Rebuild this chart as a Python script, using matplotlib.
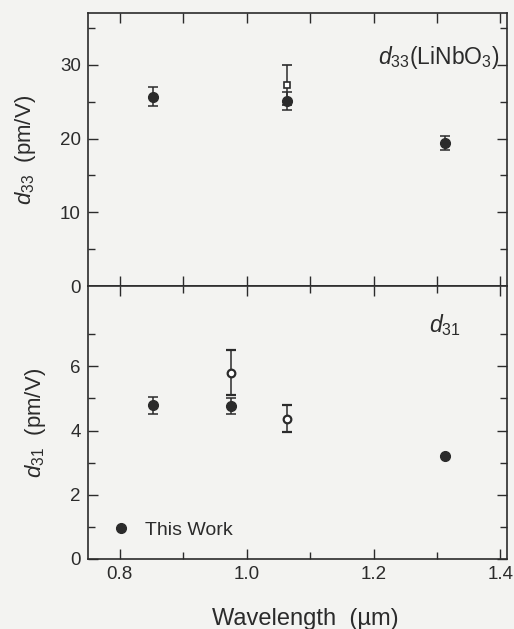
import matplotlib.pyplot as plt
from matplotlib.ticker import MultipleLocator
from matplotlib.lines import Line2D

plt.rcParams['font.family'] = ['Liberation Sans', 'DejaVu Sans']
plt.rcParams['mathtext.fontset'] = 'custom'
plt.rcParams['mathtext.rm'] = 'Liberation Sans'
plt.rcParams['mathtext.it'] = 'Liberation Sans:italic'

ink = '#2b2b2b'
bg = '#f3f3f1'

# d33 panel
d33_wl = [0.852, 1.064, 1.313]
d33_val = [25.7, 25.1, 19.4]
d33_err = [1.3, 1.2, 0.9]
d33_ref_wl = [1.064]
d33_ref_val = [27.3]
d33_ref_err = [2.7]

# d31 panel
d31_wl = [0.852, 0.976, 1.313]
d31_val = [4.78, 4.76, 3.2]
d31_err = [0.25, 0.25, 0.0]
d31_ref_wl = [0.976, 1.064]
d31_ref_val = [5.8, 4.37]
d31_ref_err = [0.7, 0.43]

fig = plt.figure(figsize=(5.14, 6.29), dpi=100, facecolor=bg)
ax1 = fig.add_axes([0.171, 0.5453, 0.815, 0.4337], facecolor=bg)
ax2 = fig.add_axes([0.171, 0.1113, 0.815, 0.434], facecolor=bg)

ax1.errorbar(d33_ref_wl, d33_ref_val, yerr=d33_ref_err, fmt='s', ms=4.5, mfc='white',
             mec=ink, mew=1.2, ecolor=ink, elinewidth=1.1, capsize=3.5, capthick=1.1, zorder=2)
ax1.errorbar(d33_wl, d33_val, yerr=d33_err, fmt='o', ms=7, color=ink,
             ecolor=ink, elinewidth=1.1, capsize=3.5, capthick=1.1, zorder=3)

ax2.errorbar(d31_ref_wl, d31_ref_val, yerr=d31_ref_err, fmt='o', ms=5.5, mfc='white',
             mec=ink, mew=1.6, ecolor=ink, elinewidth=1.1, capsize=3.5, capthick=1.1, zorder=2)
ax2.errorbar(d31_wl, d31_val, yerr=d31_err, fmt='o', ms=7, color=ink,
             ecolor=ink, elinewidth=1.1, capsize=3.5, capthick=1.1, zorder=3)

for ax in (ax1, ax2):
    ax.set_xlim(0.75, 1.41)
    ax.xaxis.set_major_locator(MultipleLocator(0.2))
    ax.xaxis.set_minor_locator(MultipleLocator(0.1))
    ax.tick_params(which='both', direction='in', top=True, right=True, colors=ink,
                   labelsize=13.5, width=1.0, pad=5)
    ax.tick_params(which='major', length=7)
    ax.tick_params(which='minor', length=5)
    for s in ax.spines.values():
        s.set_color(ink)
        s.set_linewidth(1.2)

ax1.set_ylim(0, 37)
ax1.yaxis.set_major_locator(MultipleLocator(10))
ax1.yaxis.set_minor_locator(MultipleLocator(5))
ax1.tick_params(axis='x', which='minor', length=7)
ax1.tick_params(labelbottom=False)
ax1.set_ylabel(r'$d_{33}$  (pm/V)', fontsize=16, color=ink, labelpad=16)
ax1.text(0.983, 0.839, r'$d_{33}$(LiNbO$_3$)', transform=ax1.transAxes,
         ha='right', va='center', fontsize=16.5, color=ink)

ax2.set_ylim(0, 8.5)
ax2.set_yticks([0, 2, 4, 6])
ax2.set_yticks([1, 3, 5, 7], minor=True)
ax2.set_xticks([0.8, 1.0, 1.2, 1.4])
ax2.set_xticklabels(['0.8', '1.0', '1.2', '1.4'])
ax2.set_ylabel(r'$d_{31}$  (pm/V)', fontsize=16, color=ink, labelpad=16)
ax2.set_xlabel('Wavelength  (µm)', fontsize=17, color=ink, labelpad=18)
ax2.xaxis.label.set_x(0.518)
ax2.text(0.852, 0.857, r'$d_{31}$', transform=ax2.transAxes,
         ha='center', va='center', fontsize=16.5, color=ink)
handle = Line2D([], [], ls='none', marker='o', ms=7, color=ink)
ax2.legend([handle], ['This Work'], loc='lower left', bbox_to_anchor=(0.01, 0.01),
           frameon=False, fontsize=14, handletextpad=0.6, handlelength=1.2, labelcolor=ink)

fig.savefig('out.png', dpi=100, facecolor=bg)
